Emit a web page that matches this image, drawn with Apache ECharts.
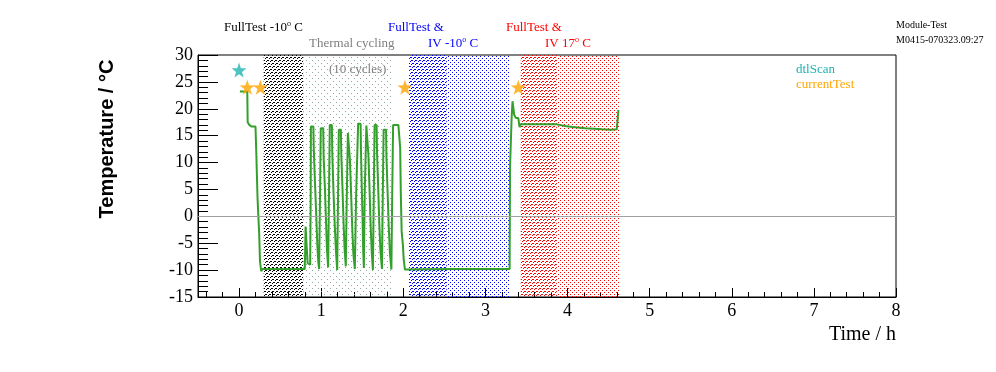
<!DOCTYPE html>
<html>
<head>
<meta charset="utf-8">
<script src="https://cdn.jsdelivr.net/npm/echarts@6/dist/echarts.min.js"></script>
<style>
html,body{margin:0;padding:0;background:#fff;}
#chart{width:996px;height:372px;}
</style>
</head>
<body>
<div id="chart"></div>
<script>
// ---------------- data ----------------
var timeH = [
  0.01, 0.10, 0.105, 0.125, 0.15, 0.20, 0.21, 0.225, 0.235, 0.245, 0.255, 0.27, 0.285, 0.80,
  0.805, 0.81, 0.83, 0.835, 0.866,
  0.872, 0.875, 0.905, 0.91, 0.925, 0.94, 0.952, 0.965, 0.975,
  0.985, 0.995, 1.025, 1.03, 1.045, 1.058, 1.07, 1.085,
  1.095, 1.105, 1.13, 1.135, 1.15, 1.165, 1.18, 1.195,
  1.205, 1.215, 1.24, 1.245, 1.26, 1.272, 1.285, 1.30,
  1.31, 1.325, 1.345, 1.35, 1.365, 1.378, 1.392, 1.41,
  1.425, 1.45, 1.48, 1.485, 1.495, 1.505, 1.512, 1.52,
  1.53, 1.55, 1.57, 1.575, 1.59, 1.603, 1.617, 1.63,
  1.64, 1.65, 1.675, 1.68, 1.695, 1.708, 1.722, 1.74,
  1.75, 1.76, 1.79, 1.795, 1.81, 1.823, 1.838, 1.855,
  1.865, 1.876, 1.94, 1.957, 1.962, 1.97, 1.98, 1.995, 2.005, 2.02,
  2.61, 2.62, 2.63, 3.27, 3.28, 3.295,
  3.30, 3.32, 3.33, 3.34, 3.35, 3.365, 3.37, 3.40, 3.405, 3.415, 3.425, 3.43,
  3.87, 3.875, 3.97, 3.975, 4.06, 4.065, 4.22, 4.225, 4.42, 4.425, 4.53, 4.535, 4.60, 4.62
];
var tempC = [
  23.2, 23.2, 17.5, 17.0, 16.7, 16.7, 11.8, 3.4, 0.0, -3.1, -8.4, -10.2, -9.8, -9.8,
  -6.5, -1.9, -1.9, -8.7, -9.0,
  3.0, 16.7, 16.7, 12.5, 6.0, 0.2, -5.0, -8.5, -9.8,
  2.5, 16.4, 16.4, 11.0, 5.5, -0.5, -6.0, -9.5,
  4.0, 17.0, 17.0, 12.0, 4.5, -1.5, -6.5, -10.0,
  3.0, 16.1, 16.1, 11.5, 5.0, -1.0, -6.0, -9.3,
  2.0, 15.5, 15.5, 10.5, 4.0, -2.0, -7.0, -9.8,
  3.5, 17.2, 17.2, 12.0, 5.0, -1.0, -6.5, -9.6,
  4.0, 16.9, 16.9, 11.5, 4.5, -2.0, -7.0, -10.0,
  3.0, 17.0, 17.0, 12.0, 5.0, -1.5, -6.5, -9.8,
  3.5, 16.1, 16.1, 11.0, 4.0, -2.0, -7.0, -9.9,
  4.0, 17.0, 17.0, 16.7, 12.7, 4.0, -2.8, -5.3, -8.0, -9.9,
  -9.8, -10.1, -9.8, -9.8, -10.0, -9.8,
  9.3, 18.6, 21.4, 20.2, 18.9, 18.6, 18.3, 18.3, 17.8, 16.6, 16.8, 17.1,
  17.1, 16.8, 16.8, 16.6, 16.6, 16.4, 16.4, 16.2, 16.2, 16.1, 16.1, 16.2, 16.2, 19.8
];
var dtlScanTime = [0.0];
var dtlScanTemp = [27.2];
var currentTestTime = [0.10, 0.26, 2.02, 3.40];
var currentTestTemp = [24.0, 24.0, 24.0, 24.0];

var regionStart = [0.30, 0.78, 2.07, 2.53, 3.43, 3.87];
var regionEnd   = [0.78, 1.87, 2.53, 3.29, 3.87, 4.63];

var xTickLabels = [0, 1, 2, 3, 4, 5, 6, 7, 8];

// ---------------- patterns ----------------
function makePattern(w, h, color, fn) {
  var c = document.createElement('canvas');
  c.width = w; c.height = h;
  var ctx = c.getContext('2d');
  ctx.fillStyle = color;
  for (var x = 0; x < w; x++) for (var y = 0; y < h; y++) if (fn(x, y)) ctx.fillRect(x, y, 1, 1);
  return c;
}
function hatch(color) {
  return makePattern(12, 12, color, function (x, y) {
    var d = (x + y) % 4;
    return ((d === 3 || d === 0) && y % 3 === 0) || (d === 3 && y % 3 === 1);
  });
}
function dots(color, step) {
  var h = step / 2;
  return makePattern(step, step, color, function (x, y) { return (x === 0 && y === 0) || (x === h && y === h); });
}
var regionFills = [
  hatch('#000000'),
  dots('#8fa89e', 6),
  hatch('#0000ff'),
  dots('#0000ff', 4),
  hatch('#ff0000'),
  dots('#ff0000', 4)
];

var lineData = timeH.map(function (t, i) { return [t, tempC[i]]; });
var dtlData = dtlScanTime.map(function (t, i) { return [t, dtlScanTemp[i]]; });
var curData = currentTestTime.map(function (t, i) { return [t, currentTestTemp[i]]; });
var regionSeries = regionStart.map(function (s, i) {
  return {
    type: 'line', xAxisIndex: 0, yAxisIndex: 0, data: [], silent: true, z: 1,
    markArea: {
      silent: true,
      itemStyle: { color: { image: regionFills[i], repeat: 'repeat' }, borderWidth: 0 },
      data: [[{ xAxis: s }, { xAxis: regionEnd[i] }]]
    }
  };
});
var minorTicks = [];
for (var k = -2; k <= 40; k++) { if (k % 5 !== 0) minorTicks.push(Math.round(k * 0.2 * 10) / 10); }

var starPath = 'path://M0,-10 L2.35,-3.24 L9.51,-3.09 L3.8,1.24 L5.88,8.09 L0,4 L-5.88,8.09 L-3.8,1.24 L-9.51,-3.09 L-2.35,-3.24 Z';
var serif = '"Liberation Serif", "Times New Roman", serif';

function supText(x, y, pre, post, color) {
  return {
    type: 'text', x: x, y: y, z: 100,
    style: {
      text: '{a|' + pre + '}{s|o}{a|' + post + '}',
      textAlign: 'left', textVerticalAlign: 'middle', align: 'left', verticalAlign: 'middle',
      rich: {
        a: { fontSize: 13, fontFamily: serif, fill: color, color: color, lineHeight: 16 },
        s: { fontSize: 8, fontFamily: serif, fill: color, color: color, lineHeight: 16, verticalAlign: 'top' }
      }
    }
  };
}
function plainText(x, y, txt, color, size, align) {
  return {
    type: 'text', x: x, y: y, z: 100,
    style: {
      text: txt, fill: color, font: size + 'px ' + serif,
      textAlign: align || 'left', textVerticalAlign: 'middle', align: align || 'left', verticalAlign: 'middle'
    }
  };
}

var chart = echarts.init(document.getElementById('chart'), null, { renderer: 'canvas' });
var gridPos = { left: 198, right: 100, top: 55, bottom: 75, outerBoundsMode: 'none', containLabel: false };
chart.setOption({
  animation: false,
  backgroundColor: '#ffffff',
  grid: [
    Object.assign({ show: true, borderColor: '#000', borderWidth: 1, backgroundColor: 'transparent' }, gridPos),
    Object.assign({ show: false }, gridPos)
  ],
  xAxis: [{
    type: 'value', gridIndex: 0, min: -0.5, max: 8,
    axisLine: { show: true, onZero: false, lineStyle: { color: '#000', width: 1 } },
    axisTick: { show: true, inside: true, length: 5, customValues: minorTicks, lineStyle: { color: '#000' } },
    axisLabel: { show: true, customValues: xTickLabels, margin: 5, color: '#000', fontSize: 18, fontFamily: serif },
    splitLine: { show: false }
  }, {
    type: 'value', gridIndex: 1, min: -0.5, max: 8, position: 'bottom',
    axisLine: { show: false, onZero: false },
    axisTick: { show: true, inside: true, length: 9, customValues: xTickLabels, lineStyle: { color: '#000' } },
    axisLabel: { show: false },
    splitLine: { show: false }
  }],
  yAxis: [{
    type: 'value', gridIndex: 0, min: -15, max: 30, interval: 5,
    axisLine: { show: true, onZero: false, lineStyle: { color: '#000', width: 1 } },
    axisTick: { show: true, inside: true, length: 20, lineStyle: { color: '#000' } },
    minorTick: { show: true, splitNumber: 5, length: 10, lineStyle: { color: '#000' } },
    axisLabel: { margin: 5, color: '#000', fontSize: 18, fontFamily: serif },
    splitLine: { show: false }
  }, {
    type: 'value', gridIndex: 1, min: -15, max: 30, show: false
  }],
  series: regionSeries.concat([{
    type: 'line', xAxisIndex: 0, yAxisIndex: 0, data: lineData,
    showSymbol: false, symbol: 'none',
    lineStyle: { color: '#33a02c', width: 2 }, itemStyle: { color: '#33a02c' },
    markLine: { silent: true, symbol: 'none', label: { show: false },
      lineStyle: { color: '#a0a0a0', width: 1, type: 'solid' }, data: [{ yAxis: 0 }] },
    z: 3
  }, {
    type: 'scatter', xAxisIndex: 0, yAxisIndex: 0, data: dtlData,
    symbol: starPath, symbolSize: 15, itemStyle: { color: '#1fb3b3' }, z: 5
  }, {
    type: 'scatter', xAxisIndex: 0, yAxisIndex: 0, data: curData,
    symbol: starPath, symbolSize: 15, itemStyle: { color: '#ffa500' }, z: 5
  }]),
  graphic: [
    supText(224, 28, 'FullTest -10', ' C', '#000000'),
    plainText(309, 44, 'Thermal cycling', '#808080', 13),
    plainText(329, 70, '(10 cycles)', '#808080', 13),
    plainText(388, 28, 'FullTest &', '#0000ff', 13),
    supText(428, 44, 'IV -10', ' C', '#0000ff'),
    plainText(506, 28, 'FullTest &', '#ff0000', 13),
    supText(545, 44, 'IV 17', ' C', '#ff0000'),
    plainText(896, 25, 'Module-Test', '#000000', 10),
    plainText(896, 40, 'M0415-070323.09:27', '#000000', 10),
    plainText(796, 70, 'dtlScan', '#1fb3b3', 13),
    plainText(796, 85, 'currentTest', '#ffa500', 13),
    plainText(896, 335, 'Time / h', '#000000', 20, 'right'),
    {
      type: 'text', x: 107, y: 139, rotation: Math.PI / 2, z: 100,
      style: {
        text: 'Temperature / °C', fill: '#000',
        font: 'bold 20px "Liberation Sans", Arial, sans-serif',
        textAlign: 'center', textVerticalAlign: 'middle', align: 'center', verticalAlign: 'middle'
      }
    }
  ]
});
</script>
</body>
</html>
